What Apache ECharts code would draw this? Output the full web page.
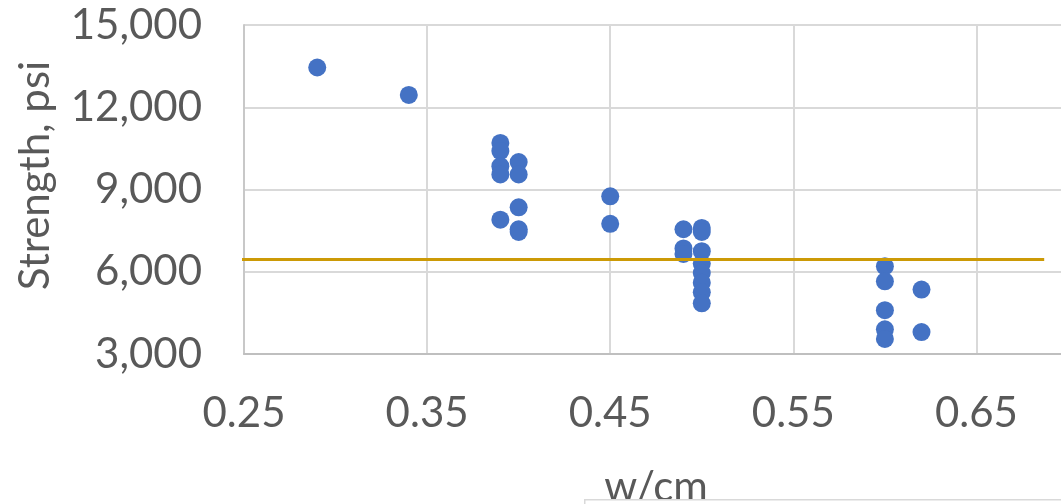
<!DOCTYPE html>
<html>
<head>
<meta charset="utf-8">
<script src="https://cdn.jsdelivr.net/npm/echarts@6/dist/echarts.min.js"></script>
<style>
  html, body { margin: 0; padding: 0; background: #ffffff; }
  #chart { width: 1061px; height: 504px; }
</style>
</head>
<body>
<div id="chart"></div>
<script>
// w/cm ratio of each mix and its measured strength (psi)
const ratios = [
  0.29, 0.34,
  0.39, 0.39, 0.39, 0.39, 0.39,
  0.40, 0.40, 0.40, 0.40, 0.40,
  0.45, 0.45,
  0.49, 0.49, 0.49,
  0.50, 0.50, 0.50, 0.50, 0.50, 0.50, 0.50, 0.50,
  0.60, 0.60, 0.60, 0.60, 0.60,
  0.62, 0.62
];
const strengths = [
  13450, 12450,
  10700, 10400, 9850, 9550, 7900,
  10000, 9550, 8350, 7550, 7450,
  8750, 7750,
  7550, 6850, 6650,
  7600, 7450, 6750, 6300, 5950, 5600, 5250, 4850,
  6200, 5650, 4600, 3900, 3550,
  5350, 3800
];

// Specified strength line
const specX = [0.248, 0.687];
const specStrength = 6450;

// Axis ticks
const xTicks = [0.25, 0.35, 0.45, 0.55, 0.65];
const yTicks = [3000, 6000, 9000, 12000, 15000];

const points = ratios.map((r, i) => [r, strengths[i]]);
const specLine = specX.map(x => [x, specStrength]);

const FONT = 'Lato';
const chart = echarts.init(document.getElementById('chart'), null, { renderer: 'canvas' });

chart.setOption({
  backgroundColor: '#ffffff',
  animation: false,
  grid: {
    left: 244, top: 25, width: 824, height: 329,
    containLabel: false,
    outerBoundsMode: 'none'
  },
  xAxis: {
    type: 'value',
    min: xTicks[0],
    max: 0.70,
    interval: 0.05,
    name: 'w/cm',
    nameLocation: 'middle',
    nameGap: 112,
    nameTextStyle: { fontFamily: FONT, fontSize: 42, color: '#595959' },
    axisLine: { show: true, lineStyle: { color: '#bfbfbf', width: 2 } },
    axisTick: { show: false },
    axisLabel: {
      margin: 38,
      fontFamily: FONT,
      fontSize: 42,
      color: '#595959',
      showMaxLabel: false,
      formatter: v => {
        const hit = xTicks.find(t => Math.abs(t - v) < 1e-6);
        return hit === undefined ? '' : hit.toFixed(2);
      }
    },
    splitLine: { show: true, lineStyle: { color: ['#d9d9d9', 'rgba(0,0,0,0)'], width: 2 } }
  },
  yAxis: {
    type: 'value',
    min: yTicks[0],
    max: yTicks[yTicks.length - 1],
    interval: 3000,
    name: 'Strength, psi',
    nameLocation: 'middle',
    nameGap: 188,
    nameTextStyle: { fontFamily: FONT, fontSize: 42, color: '#595959', padding: [0, 0, 0, 28] },
    axisLine: { show: true, lineStyle: { color: '#c8c8c8', width: 2 } },
    axisTick: { show: false },
    axisLabel: {
      margin: 42,
      fontFamily: FONT,
      fontSize: 42,
      color: '#595959',
      formatter: v => v.toLocaleString('en-US')
    },
    splitLine: { show: true, lineStyle: { color: '#d9d9d9', width: 2 } }
  },
  series: [
    {
      type: 'scatter',
      data: points,
      symbol: 'circle',
      symbolSize: 18,
      itemStyle: { color: '#4472c4', opacity: 1 },
      z: 2
    },
    {
      type: 'line',
      data: specLine,
      showSymbol: false,
      symbol: 'none',
      clip: false,
      lineStyle: { color: '#cc9a06', width: 3 },
      z: 3
    }
  ],
  graphic: [
    {
      type: 'rect',
      left: 584,
      top: 499,
      shape: { width: 520, height: 60 },
      style: { fill: '#ffffff', stroke: '#d9d9d9', lineWidth: 1.5 },
      z: 10
    }
  ]
});
</script>
</body>
</html>
